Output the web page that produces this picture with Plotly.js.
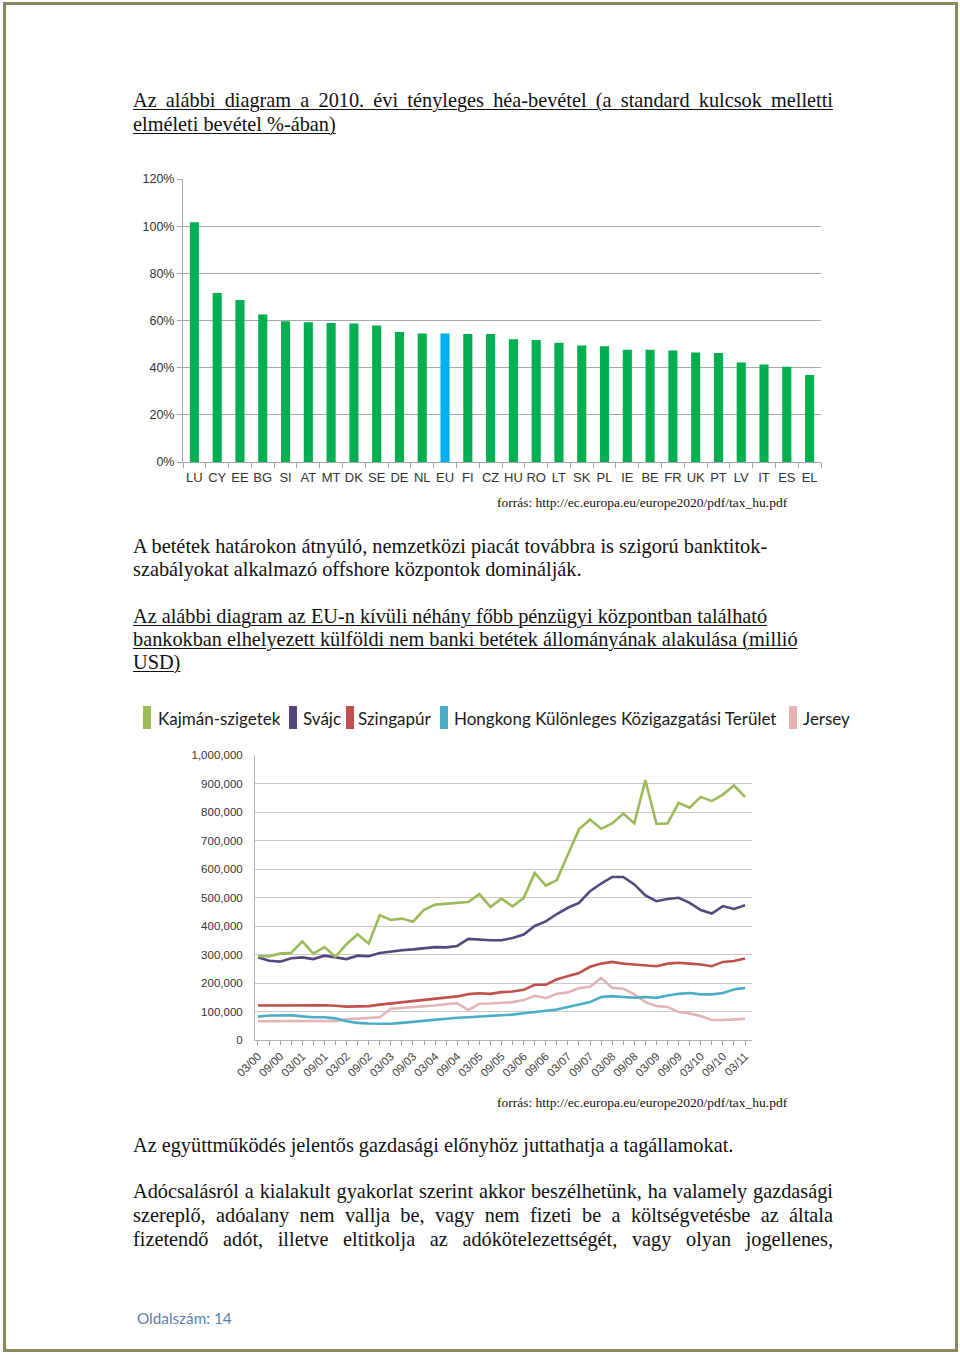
<!DOCTYPE html>
<html><head><meta charset="utf-8">
<script src="https://cdn.plot.ly/plotly-3.0.1.min.js"></script>
<style>
html,body{margin:0;padding:0;background:#fff;}
body{width:960px;height:1355px;position:relative;overflow:hidden;font-family:"Liberation Serif","Times New Roman",serif;color:#111;}
.frame{position:absolute;left:3px;top:2px;width:949px;height:1344px;border:3px solid #8b8a5c;}
.ln{position:absolute;left:133px;white-space:nowrap;font-size:20.3px;line-height:23px;}
.j{width:700px;text-align:justify;text-align-last:justify;white-space:normal;}
.u{text-decoration:underline;text-underline-offset:2px;text-decoration-thickness:1px;}
.src{position:absolute;left:497px;font-size:13.5px;line-height:16px;white-space:nowrap;}
.page{position:absolute;left:137px;top:1309px;font-family:Lato,"Noto Sans",sans-serif;font-size:15.3px;color:#5b7fad;}
#bar,#line{position:absolute;}
#bar{left:120px;top:160px;width:720px;height:340px;}
#line{left:130px;top:690px;width:730px;height:400px;}
</style></head>
<body>
<div class="frame"></div>
<div class="ln j u" style="top:89px">Az alábbi diagram a 2010. évi tényleges héa-bevétel (a standard kulcsok melletti</div>
<div class="ln u" style="top:113px">elméleti bevétel %-ában)</div>
<div id="bar"></div>
<div class="src" style="top:495px">forrás: http://ec.europa.eu/europe2020/pdf/tax_hu.pdf</div>
<div class="ln" style="top:535px">A betétek határokon átnyúló, nemzetközi piacát továbbra is szigorú banktitok-</div>
<div class="ln" style="top:558px">szabályokat alkalmazó offshore központok dominálják.</div>
<div class="ln u" style="top:605px">Az alábbi diagram az EU-n kívüli néhány főbb pénzügyi központban található</div>
<div class="ln u" style="top:628px">bankokban elhelyezett külföldi nem banki betétek állományának alakulása (millió</div>
<div class="ln u" style="top:651px">USD)</div>
<div id="line"></div>
<div class="src" style="top:1095px">forrás: http://ec.europa.eu/europe2020/pdf/tax_hu.pdf</div>
<div class="ln" style="top:1134px">Az együttműködés jelentős gazdasági előnyhöz juttathatja a tagállamokat.</div>
<div class="ln j" style="top:1180px">Adócsalásról a kialakult gyakorlat szerint akkor beszélhetünk, ha valamely gazdasági</div>
<div class="ln j" style="top:1204px">szereplő, adóalany nem vallja be, vagy nem fizeti be a költségvetésbe az általa</div>
<div class="ln j" style="top:1228px">fizetendő adót, illetve eltitkolja az adókötelezettségét, vagy olyan jogellenes,</div>
<div class="page">Oldalszám: 14</div>
<script>
// ---- Bar chart data ----
const vatCountries = ['LU','CY','EE','BG','SI','AT','MT','DK','SE','DE','NL','EU','FI','CZ','HU','RO','LT','SK','PL','IE','BE','FR','UK','PT','LV','IT','ES','EL'];
const vatRatio = [101.7,71.7,68.7,62.5,59.7,59.3,58.9,58.7,57.9,55.1,54.5,54.5,54.3,54.3,52.0,51.7,50.6,49.4,49.1,47.6,47.6,47.3,46.4,46.2,42.2,41.3,40.4,36.9];
const highlightCountry = 'EU';

// ---- Line chart data (thousand USD) ----
const periods = ['03/00','06/00','09/00','12/00','03/01','06/01','09/01','12/01','03/02','06/02','09/02','12/02',
 '03/03','06/03','09/03','12/03','03/04','06/04','09/04','12/04','03/05','06/05','09/05','12/05',
 '03/06','06/06','09/06','12/06','03/07','06/07','09/07','12/07','03/08','06/08','09/08','12/08',
 '03/09','06/09','09/09','12/09','03/10','06/10','09/10','12/10','03/11'];
const tickLabels = ['03/00','09/00','03/01','09/01','03/02','09/02','03/03','09/03','03/04','09/04','03/05','09/05',
 '03/06','09/06','03/07','09/07','03/08','09/08','03/09','09/09','03/10','09/10','03/11'];
const seriesNames = ['Kajmán-szigetek','Svájc','Szingapúr','Hongkong Különleges Közigazgatási Terület','Jersey'];
const cayman = [294,294,303,306,346,303,326,292,336,371,338,438,421,426,415,457,475,478,481,484,512,467,496,469,498,586,542,561,651,739,774,741,760,795,760,912,758,760,832,815,853,838,861,893,853];
const swiss = [290,278,275,287,290,284,296,291,284,296,294,305,311,315,318,322,326,325,330,355,352,350,350,358,370,400,416,442,464,481,522,549,572,572,546,507,487,495,499,481,456,444,470,460,473];
const singapore = [121,121,122,123,121,122,122,120,117,118,119,124,128,133,135,141,143,149,153,161,164,162,168,170,176,194,194,213,224,235,257,268,274,268,265,263,259,268,271,268,265,259,274,277,286];
const hongkong = [82,86,86,87,83,80,80,76,66,60,58,57,57,60,64,68,72,75,78,80,82,84,86,89,94,99,103,107,116,125,133,151,154,151,148,151,148,156,162,165,160,160,165,177,183];
const jersey = [66,66,66,66,66,66,66,67,73,76,77,80,110,113,114,117,121,126,129,105,127,128,131,133,140,155,147,162,167,182,187,218,183,180,160,133,119,116,98,93,84,70,70,72,74];

// ---- Bar chart ----
const barColors = vatCountries.map(c => c === highlightCountry ? '#00b0f0' : '#00b050');
Plotly.newPlot('bar', [{
  type:'bar', x:vatCountries, y:vatRatio, width:0.4,
  marker:{color:barColors, line:{width:0}}, hoverinfo:'none'
}], {
  width:720, height:340, margin:{l:63,r:19,t:19,b:38},
  paper_bgcolor:'rgba(0,0,0,0)', plot_bgcolor:'rgba(0,0,0,0)', showlegend:false,
  xaxis:{type:'category', range:[-0.5,27.5], showline:true, linecolor:'#a6a6a6', linewidth:1, tickangle:0,
    ticks:'outside', tickson:'boundaries', ticklen:5, tickcolor:'#a6a6a6', showgrid:false, ticklabelstandoff:3,
    tickfont:{family:'Liberation Sans, Arial, sans-serif', size:13, color:'#333'}},
  yaxis:{range:[0,120], dtick:20, ticksuffix:'%', showline:true, linecolor:'#a6a6a6', linewidth:1,
    ticks:'outside', ticklen:5, tickcolor:'#a6a6a6', gridcolor:'#a8a8a8', gridwidth:1, zeroline:false,
    tickfont:{family:'Liberation Sans, Arial, sans-serif', size:12.5, color:'#333'}}
}, {staticPlot:true, displayModeBar:false});

// ---- Line chart ----
const lineColors = ['#9bbb59','#55467e','#c0504d','#4bacc6','#e3b3b5'];
const seriesVals = [cayman, swiss, singapore, hongkong, jersey];
const xIdx = periods.map((p,i)=>i);
const traces = seriesVals.map((vals,k)=>({
  type:'scatter', mode:'lines', name:seriesNames[k], x:xIdx, y:vals.map(v=>v*1000),
  line:{color:lineColors[k], width:2.6}, hoverinfo:'none'
}));
const order = [4,3,2,1,0];
const orderedTraces = order.map(k=>traces[k]);

const plotL = 255, plotR = 752, plotT = 755, plotB = 1040;
const px2x = px => (px - plotL)/(plotR - plotL);
const py2y = py => (plotB - py)/(plotB - plotT);
const legRectX = [143,289,346,440,789];
const legTextX = [156,301,356,452,801];
const shapes = [], annotations = [];
seriesNames.forEach((nm,k)=>{
  shapes.push({type:'rect', xref:'paper', yref:'paper', x0:px2x(legRectX[k]), x1:px2x(legRectX[k]+8),
    y0:py2y(729), y1:py2y(706), fillcolor:lineColors[k], line:{width:0}});
  annotations.push({xref:'paper', yref:'paper', x:px2x(legTextX[k]), y:py2y(718), xanchor:'left', yanchor:'middle',
    text:nm, showarrow:false, font:{family:'Lato, "Noto Sans", sans-serif', size:17, color:'#1a1a1a'}});
});

Plotly.newPlot('line', orderedTraces, {
  width:730, height:400, margin:{l:125,r:108,t:65,b:50},
  paper_bgcolor:'rgba(0,0,0,0)', plot_bgcolor:'rgba(0,0,0,0)', showlegend:false,
  xaxis:{range:[-0.27,44.63], tickvals:tickLabels.map(l=>periods.indexOf(l)), ticktext:tickLabels, tickangle:-45,
    ticks:'outside', ticklen:4, tickcolor:'#9a9a9a', showline:true, linecolor:'#b5b5b5', linewidth:1,
    showgrid:false, zeroline:false,
    minor:{dtick:1, tick0:0, ticks:'outside', ticklen:4, tickcolor:'#9a9a9a', showgrid:false},
    tickfont:{family:'Liberation Sans, Arial, sans-serif', size:11.5, color:'#444'}},
  yaxis:{range:[0,1000000], dtick:100000, tickformat:',d', showline:true, linecolor:'#b5b5b5', linewidth:1,
    ticks:'outside', ticklen:9, tickcolor:'rgba(0,0,0,0)', gridcolor:'#c8c8c8', gridwidth:1, zeroline:false,
    tickfont:{family:'Liberation Sans, Arial, sans-serif', size:11.5, color:'#333'}},
  shapes:shapes, annotations:annotations
}, {staticPlot:true, displayModeBar:false});
</script>
</body></html>
